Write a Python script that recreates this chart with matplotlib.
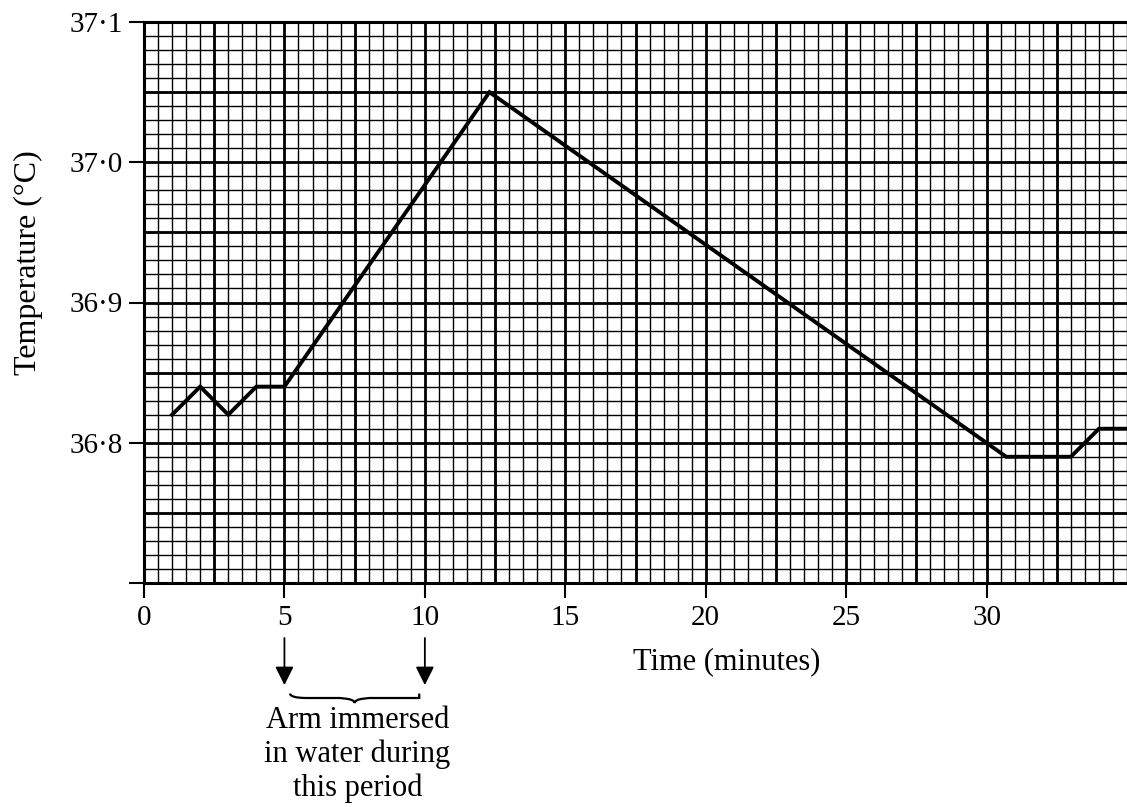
import numpy as np
import matplotlib
matplotlib.use("Agg")
import matplotlib.pyplot as plt
from matplotlib.path import Path
from matplotlib.patches import PathPatch
from matplotlib.ticker import MultipleLocator

plt.rcParams['font.family'] = ['Liberation Serif', 'DejaVu Serif']

# readings taken off the graph
time_min = [1, 2, 3, 4, 5, 12.3, 30.7, 33, 34, 35]
temp_c = [36.82, 36.84, 36.82, 36.84, 36.84, 37.05, 36.79, 36.79, 36.81, 36.81]

x_ticks = [0, 5, 10, 15, 20, 25, 30]
y_ticks = [36.7, 36.8, 36.9, 37.0, 37.1]
y_tick_labels = ["", "36·8", "36·9", "37·0", "37·1"]

immersion = (5, 10)
note_lines = ["Arm immersed", "in water during", "this period"]

fig = plt.figure(figsize=(11.27, 8.07), dpi=100)
ax = fig.add_axes([144 / 1127, 1 - 583 / 807, 1 - 144 / 1127, (583 - 22) / 807])

ax.set_xlim(0, 35)
ax.set_ylim(36.7, 37.1)

# graph paper: fine squares plus heavier lines every 2.5 min / 0.05 C
ax.xaxis.set_minor_locator(MultipleLocator(0.5))
ax.yaxis.set_minor_locator(MultipleLocator(0.01))
ax.grid(which='minor', color='black', lw=1.0)
ax.grid(which='major', color='black', lw=2.0)
for xv in np.arange(2.5, 35, 5):
    ax.axvline(xv, color='black', lw=2.0, zorder=0.5)
for yv in np.arange(36.75, 37.1, 0.1):
    ax.axhline(yv, color='black', lw=2.0, zorder=0.5)
ax.set_axisbelow(True)

ax.plot(time_min, temp_c, color='black', lw=2.8, solid_joinstyle='miter', zorder=3)

ax.set_xticks(x_ticks)
ax.set_yticks(y_ticks)
ax.set_yticklabels(y_tick_labels)
ax.tick_params(which='major', direction='out', length=11, width=1.5, labelsize=21)
ax.tick_params(axis='x', pad=5)
ax.tick_params(axis='y', pad=4)
ax.tick_params(which='minor', length=0)
for s in ax.spines.values():
    s.set_linewidth(2.2)
ax.spines['right'].set_visible(False)

fig.text(727 / 1127, 1 - 662 / 807, "Time (minutes)", fontsize=22, ha='center', va='center')
fig.text(28 / 1127, 1 - 263 / 807, "Temperature (°C)", fontsize=23, rotation=90,
         ha='center', va='center')

# arrows under the axis marking the immersion period
tr = ax.get_xaxis_transform()
for xv in immersion:
    ax.annotate("", xy=(xv, -0.182), xytext=(xv, -0.098), xycoords=tr, textcoords=tr,
                arrowprops=dict(arrowstyle='-|>', color='black', lw=1.3,
                                mutation_scale=28, shrinkA=0, shrinkB=0),
                annotation_clip=False)

# curly brace
x1, x2 = immersion[0] + 0.2, immersion[1] - 0.2
xm = (x1 + x2) / 2
top, mid, tip = -0.197, -0.205, -0.214
d = 0.6
verts = [(x1, top), (x1, mid), (x1 + d, mid), (x1 + d, mid),
         (xm - d, mid), (xm - d, mid), (xm, mid), (xm, tip),
         (xm, mid), (xm + d, mid), (xm + d, mid),
         (x2 - d, mid), (x2 - d, mid), (x2, mid), (x2, top)]
codes = [Path.MOVETO, Path.CURVE3, Path.CURVE3, Path.LINETO,
         Path.LINETO, Path.CURVE4, Path.CURVE4, Path.CURVE4,
         Path.CURVE4, Path.CURVE4, Path.CURVE4,
         Path.LINETO, Path.CURVE3, Path.CURVE3, Path.LINETO]
brace = PathPatch(Path(verts, codes), transform=tr, fill=False, color='black',
                  lw=1.6, clip_on=False)
ax.add_patch(brace)

for i, line in enumerate(note_lines):
    ax.text(xm + 0.1, -0.245 - 0.060 * i, line, transform=tr, fontsize=22,
            ha='center', va='center')

fig.savefig("out.png", dpi=100)
